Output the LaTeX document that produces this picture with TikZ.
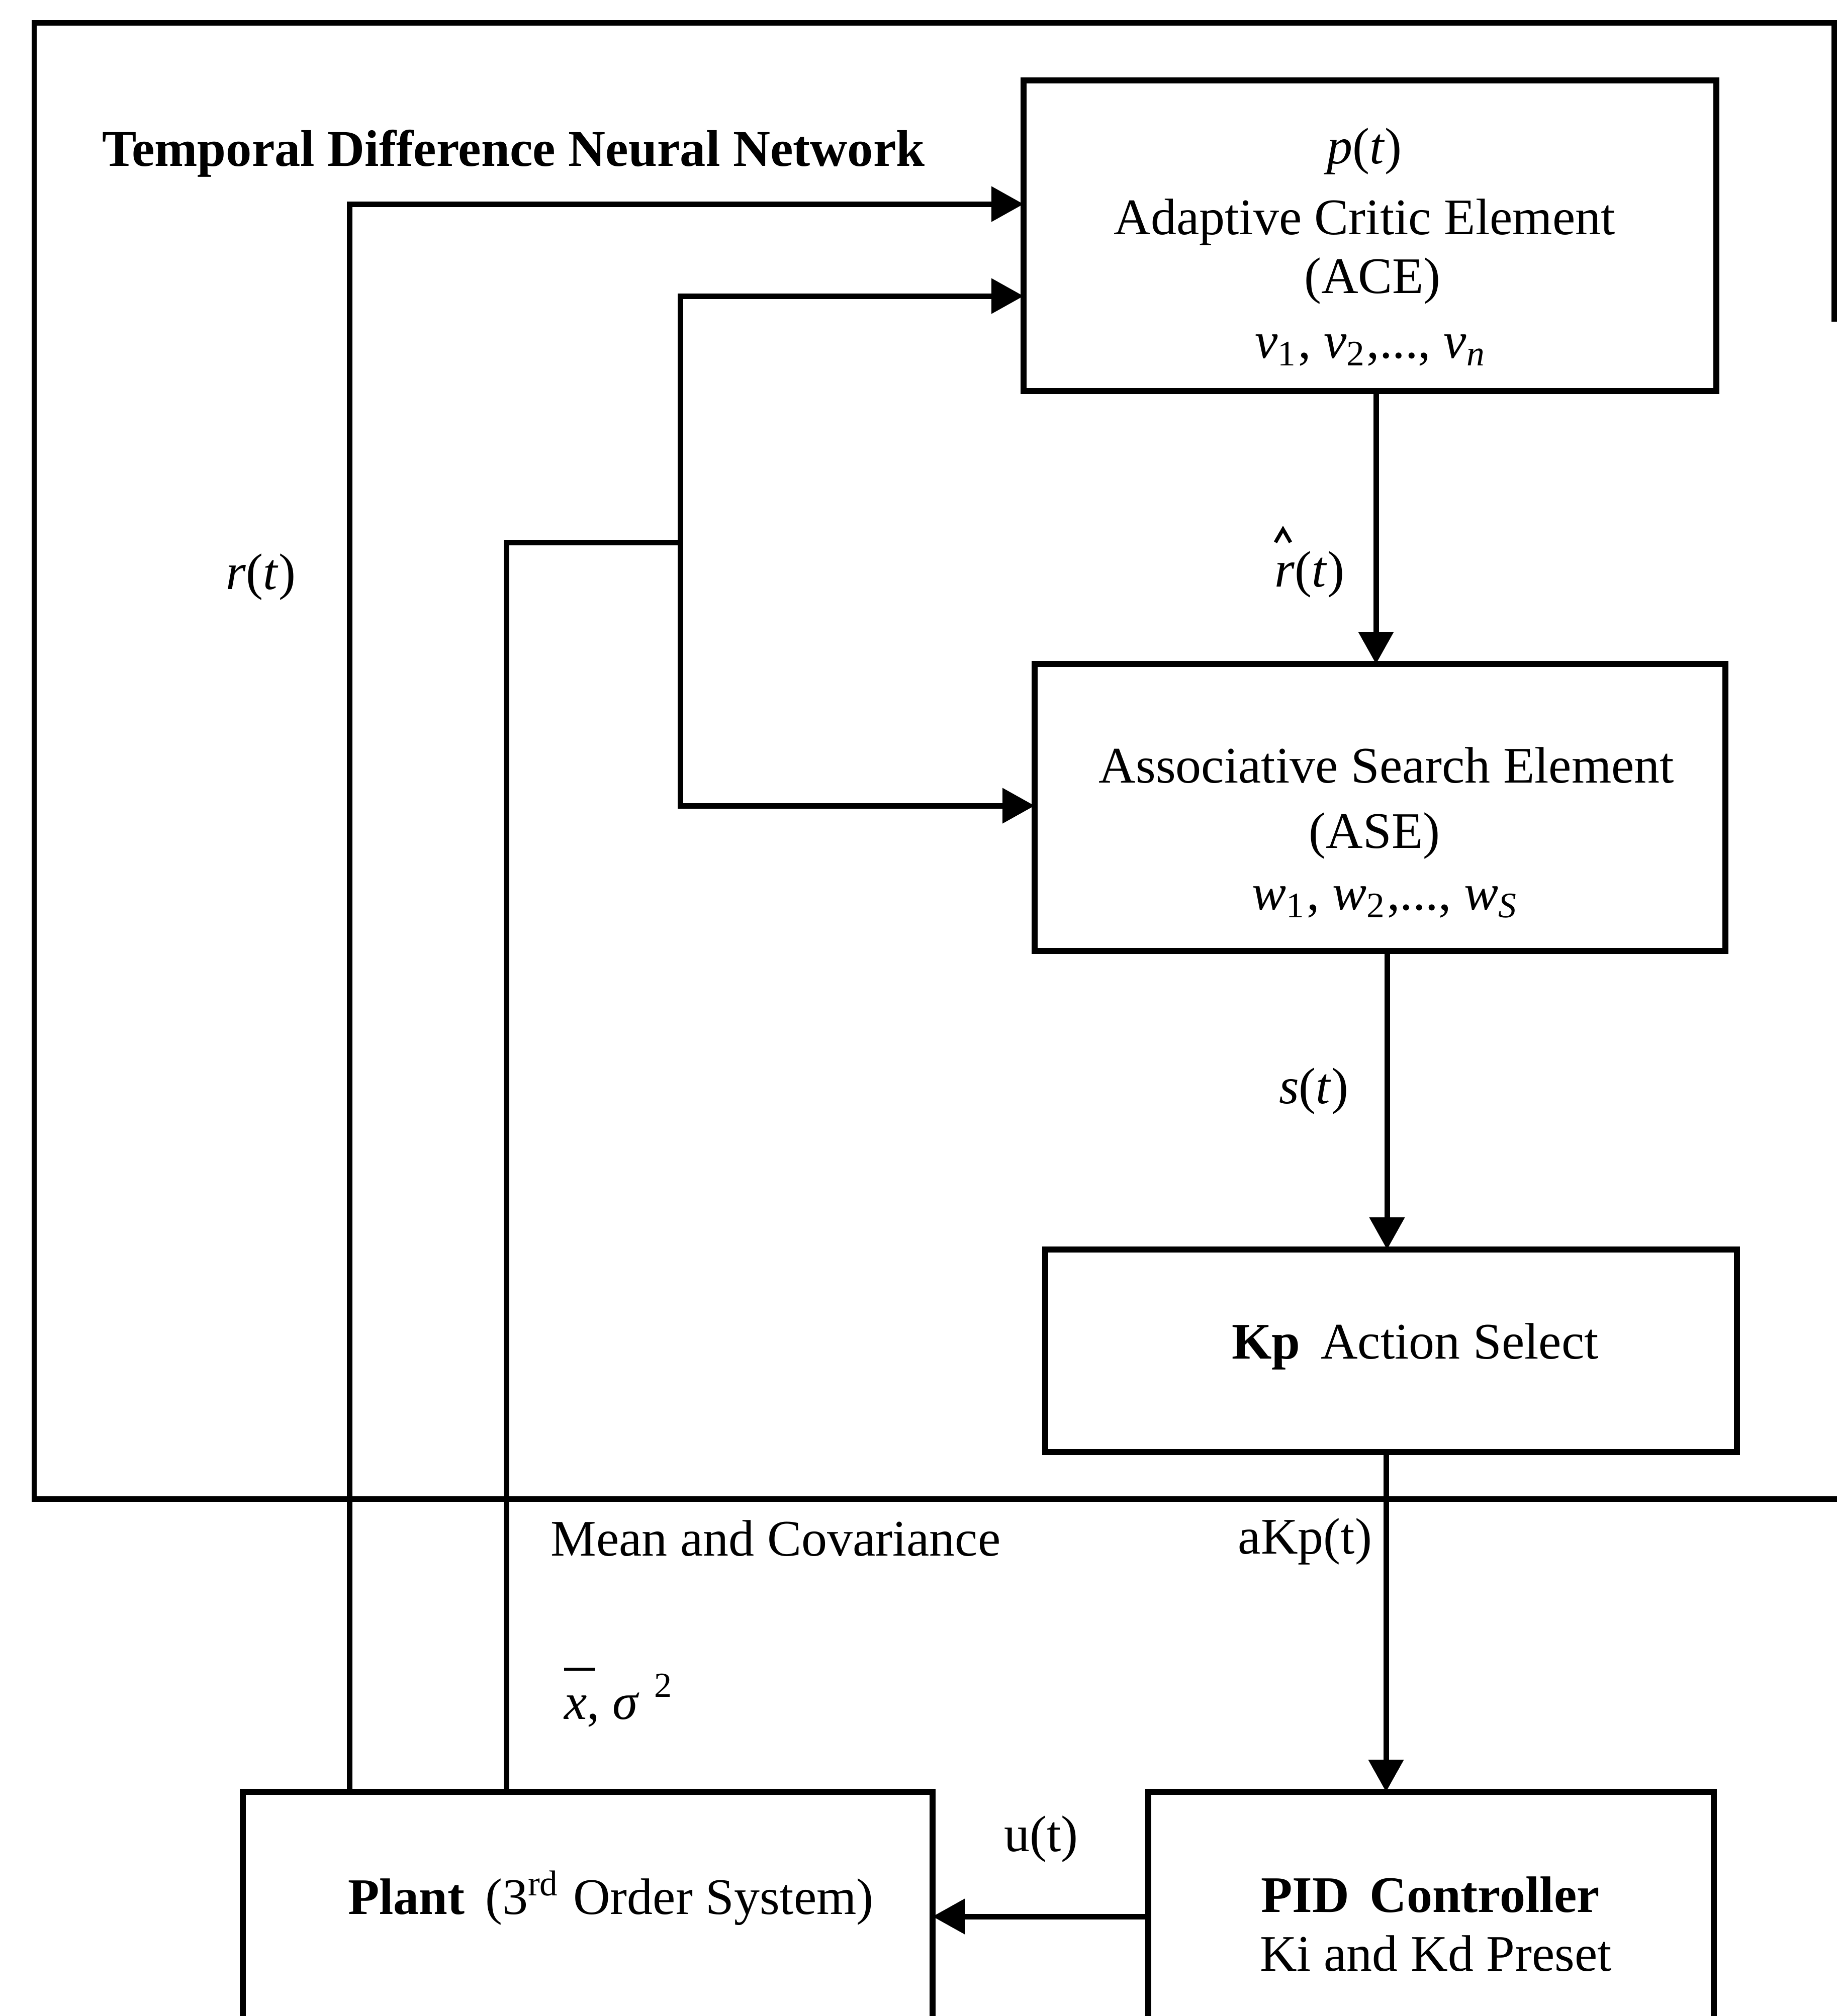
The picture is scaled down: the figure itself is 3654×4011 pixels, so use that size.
\documentclass[tikz,border=0pt]{standalone}
\usepackage{fontspec}
\setmainfont{Liberation Serif}
\usetikzlibrary{arrows.meta}
% small helper for the mean symbol
\newcommand\xbarsym{\rlap{\rule[9.6pt]{6.2pt}{0.6pt}}\textit{x}}
\begin{document}
\begin{tikzpicture}[x=0.1pt,y=-0.1pt,
  box/.style={draw, line width=1.2pt, rectangle, inner sep=0pt, outer sep=0pt},
  frameline/.style={line width=1.1pt, line join=miter},
  conn/.style={line width=1.1pt},
  arr/.style={conn, -{Triangle[length=6.4pt,width=6.8pt]}},
  txt/.style={font=\fontsize{10.2pt}{12pt}\selectfont, inner sep=0pt, anchor=base},
]
\useasboundingbox (0,0) rectangle (3654,4011);
\clip (0,0) rectangle (3654,4011);

% enclosing frame of the neural network (its right side runs off the sheet)
\draw[frameline] (3648,640) -- (3648,45) -- (68,45) -- (68,2982) -- (3660,2982);
\node[txt, anchor=base west, font=\fontsize{10.25pt}{12pt}\selectfont\bfseries] (title) at (201,330)
  {Temporal Difference Neural Network};

% blocks
\node[box, minimum width=137.8pt, minimum height=61.8pt] (ace) at (2725,469) {};
\node[box, minimum width=137.4pt, minimum height=57.1pt] (ase) at (2745,1606.5) {};
\node[box, minimum width=137.6pt, minimum height=40.3pt] (kp) at (2767,2687.5) {};
\node[box, minimum width=112.5pt, minimum height=53.5pt] (pid) at (2846.5,3832.5) {};
\node[box, minimum width=137.2pt, minimum height=53.5pt] (plant) at (1169,3832.5) {};

% block texts
\node[txt] (ace1) at (2714,325) {\textit{p}(\textit{t})};
\node[txt] (ace2) at (2714,466) {Adaptive Critic Element};
\node[txt] (ace3) at (2730,583) {(ACE)};
\node[txt] (ace4) at (2727,712) {\textit{v}\textsubscript{1}, \textit{v}\textsubscript{2},..., \textit{v}\textsubscript{\textit{n}}};

\node[txt] (ase1) at (2758,1557) {Associative Search Element};
\node[txt] (ase2) at (2734,1687) {(ASE)};
\node[txt] (ase3) at (2756,1810) {\textit{w}\textsubscript{1}, \textit{w}\textsubscript{2},..., \textit{w}\textsubscript{\textit{S}}};

\node[txt] (kp1) at (2815,2703) {\textbf{Kp}\hspace{0.4em}Action Select};

\node[txt] (pid1) at (2845,3804) {\textbf{PID\hspace{0.4em}Controller}};
\node[txt] (pid2) at (2856,3921) {Ki and Kd Preset};

\node[txt] (plant1) at (1215,3808) {\textbf{Plant}\hspace{0.4em}(3\textsuperscript{rd} Order System)};

% signal routing
\coordinate (rA) at (695,406);
\coordinate (mA) at (1007,1079);
\coordinate (bJ) at (1353,1079);
\coordinate (bT) at (1353,589);
\coordinate (bB) at (1353,1603);
\coordinate (cx) at (2737,0);
\coordinate (sx) at (2759,0);
\coordinate (ax) at (2757,0);
\coordinate (uy) at (0,3813);

\draw[arr] (plant.north -| rA) -- (rA) -- (ace.west |- rA);
\draw[conn] (plant.north -| mA) -- (mA) -- (bJ);
\draw[arr] (bJ) -- (bT) -- (ace.west |- bT);
\draw[arr] (bJ) -- (bB) -- (ase.west |- bB);
\draw[arr] (ace.south -| cx) -- (ase.north -| cx);
\draw[arr] (ase.south -| sx) -- (kp.north -| sx);
\draw[arr] (kp.south -| ax) -- (pid.north -| ax);
\draw[arr] (pid.west |- uy) -- (plant.east |- uy);

% signal labels
\node[txt] (lr) at (519,1172) {\textit{r}(\textit{t})};
\node[txt] (lrhat) at (2605,1167) {\textit{r}(\textit{t})};
% estimate hat over the r
\draw[line width=0.7pt, line join=miter] (2537,1079) -- (2552,1053) -- (2567,1079);
\node[txt] (ls) at (2613,2195) {\textit{s}(\textit{t})};
\node[txt] (lakp) at (2596,3091) {aKp(t)};
\node[txt] (lmean) at (1543,3095) {Mean and Covariance};
\node[txt, anchor=base west] (lxs) at (1120,3420)
  {\xbarsym, \textit{σ}\hspace{3pt}\raisebox{4.4pt}{\fontsize{7pt}{8pt}\selectfont 2}};
\node[txt] (lu) at (2071,3683) {u(t)};
\end{tikzpicture}
\end{document}
